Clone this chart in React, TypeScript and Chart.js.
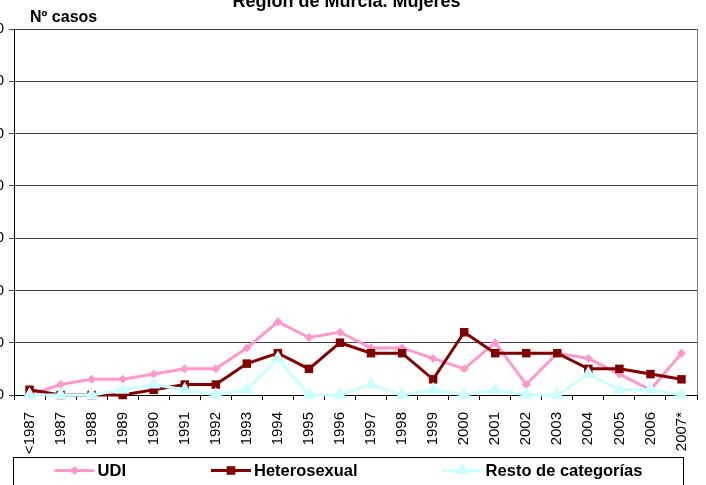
import React, { useEffect, useRef } from 'react';
import { Chart, registerables } from 'chart.js';

Chart.register(...registerables);

const categories = ['<1987', '1987', '1988', '1989', '1990', '1991', '1992', '1993', '1994', '1995', '1996', '1997', '1998', '1999', '2000', '2001', '2002', '2003', '2004', '2005', '2006', '2007*'];
const udi = [0, 2, 3, 3, 4, 5, 5, 9, 14, 11, 12, 9, 9, 7, 5, 10, 2, 8, 7, 4, 1, 8];
const heterosexual = [1, 0, 0, 0, 1, 2, 2, 6, 8, 5, 10, 8, 8, 3, 12, 8, 8, 8, 5, 5, 4, 3];
const resto = [0, 0, 0, 1, 2, 1, 0, 1, 7, 0, 0, 2, 0, 1, 0, 1, 0, 0, 4, 1, 1, 0];
const seriesNames = ['UDI', 'Heterosexual', 'Resto de categorías'];
const seriesColors = ['#FF99CC', '#800000', '#CCFFFF'];
const seriesStyles = ['rectRot', 'rect', 'triangle'];
const yMin = 0;
const yMax = 70;
const yStep = 10;
const titleText = 'Región de Murcia. Mujeres';
const yTitleText = 'Nº casos';

const FONT = '"Liberation Sans", Arial, sans-serif';

function drawMarker(ctx: CanvasRenderingContext2D, style: string, x: number, y: number, color: string) {
  ctx.fillStyle = color;
  ctx.beginPath();
  if (style === 'rectRot') {
    const r = 4.5;
    ctx.moveTo(x - r, y); ctx.lineTo(x, y - r); ctx.lineTo(x + r, y); ctx.lineTo(x, y + r);
  } else if (style === 'rect') {
    const s = 4.3;
    ctx.rect(x - s, y - s, 2 * s, 2 * s);
  } else {
    const r = 8;
    ctx.moveTo(x, y - r);
    ctx.lineTo(x + r * 0.866, y + r / 2);
    ctx.lineTo(x - r * 0.866, y + r / 2);
  }
  ctx.closePath();
  ctx.fill();
}

const decorPlugin = {
  id: 'decor',
  afterDraw(chart: any) {
    const { ctx, chartArea: ca } = chart;
    ctx.save();
    // right border of plot area
    ctx.strokeStyle = '#808080';
    ctx.lineWidth = 1;
    ctx.beginPath();
    ctx.moveTo(Math.round(ca.right) + 0.5, ca.top);
    ctx.lineTo(Math.round(ca.right) + 0.5, ca.bottom);
    ctx.stroke();

    // title
    ctx.fillStyle = '#000';
    ctx.font = 'bold 18px ' + FONT;
    ctx.textAlign = 'center';
    ctx.textBaseline = 'alphabetic';
    ctx.fillText(titleText, (ca.left + ca.right) / 2 - 9, 21);

    // y axis title
    ctx.font = 'bold 16px ' + FONT;
    ctx.textAlign = 'left';
    ctx.fillText(yTitleText, ca.left + 16, ca.top - 7.5);

    // legend
    const boxLeft = Math.round(ca.left) - 1 + 0.5;
    const boxTop = Math.round(ca.bottom) + 62 + 0.5;
    const boxRight = Math.round(ca.right) - 14 + 0.5;
    const boxBottom = chart.height + 10;
    ctx.strokeStyle = '#000';
    ctx.lineWidth = 1;
    ctx.strokeRect(boxLeft, boxTop, boxRight - boxLeft, boxBottom - boxTop);

    ctx.font = 'bold 16.5px ' + FONT;
    const lineLen = 40;
    const gap = 3;
    const spacing = 85;
    const widths = seriesNames.map((n) => ctx.measureText(n).width);
    const total = widths.reduce((a, w) => a + lineLen + gap + w, 0) + spacing * (seriesNames.length - 1);
    let x = (boxLeft + boxRight) / 2 - total / 2;
    const cy = boxTop + 13;
    seriesNames.forEach((name, i) => {
      ctx.strokeStyle = seriesColors[i];
      ctx.lineWidth = 3;
      ctx.beginPath();
      ctx.moveTo(x, cy);
      ctx.lineTo(x + lineLen, cy);
      ctx.stroke();
      drawMarker(ctx, seriesStyles[i], x + lineLen / 2, cy, seriesColors[i]);
      ctx.fillStyle = '#000';
      ctx.textAlign = 'left';
      ctx.textBaseline = 'middle';
      ctx.fillText(name, x + lineLen + gap, cy + 1);
      x += lineLen + gap + widths[i] + spacing;
    });
    ctx.restore();
  },
};

export default function App() {
  const canvasRef = useRef<HTMLCanvasElement | null>(null);

  useEffect(() => {
    if (!canvasRef.current) return;
    const seriesData = [udi, heterosexual, resto];
    const pointRadii = [4.5, 6, 8];
    const chart = new Chart(canvasRef.current, {
      type: 'line',
      data: {
        labels: categories,
        datasets: seriesNames.map((name, i) => ({
          label: name,
          data: seriesData[i],
          borderColor: seriesColors[i],
          backgroundColor: seriesColors[i],
          borderWidth: 3,
          pointStyle: seriesStyles[i] as any,
          pointRadius: pointRadii[i],
          pointBorderWidth: 0,
          pointBackgroundColor: seriesColors[i],
          tension: 0,
          fill: false,
          clip: false as any,
          order: 3 - i,
        })),
      },
      options: {
        responsive: false,
        animation: false,
        layout: { padding: { top: 43, right: 9, left: 0, bottom: 28 } },
        plugins: {
          legend: { display: false },
          title: { display: false },
          tooltip: { enabled: false },
        },
        scales: {
          x: {
            offset: true,
            grid: {
              offset: true,
              drawOnChartArea: false,
              drawTicks: true,
              tickLength: 5,
              color: '#000',
            },
            border: { color: '#000', width: 1 },
            ticks: {
              autoSkip: false,
              maxRotation: 90,
              minRotation: 90,
              padding: 12,
              color: '#000',
              font: { family: FONT, size: 15 },
            },
            afterFit: (scale: any) => {
              scale.height = 62;
              scale.paddingLeft = 0;
              scale.paddingRight = 0;
            },
          },
          y: {
            min: yMin,
            max: yMax,
            ticks: {
              stepSize: yStep,
              padding: 5,
              color: '#000',
              font: { family: FONT, size: 15 },
            },
            grid: { color: '#404040', tickLength: 5 },
            border: { color: '#000', width: 1 },
            afterFit: (scale: any) => { scale.width = 38; },
          },
        },
      },
      plugins: [decorPlugin],
    });
    return () => chart.destroy();
  }, []);

  return (
    <div style={{ position: 'fixed', left: 0, top: 0, width: 706, height: 485, overflow: 'hidden', background: '#fff' }}>
      <canvas
        ref={canvasRef}
        width={730}
        height={499}
        style={{ position: 'absolute', left: -24, top: -14, width: 730, height: 499 }}
      />
    </div>
  );
}
